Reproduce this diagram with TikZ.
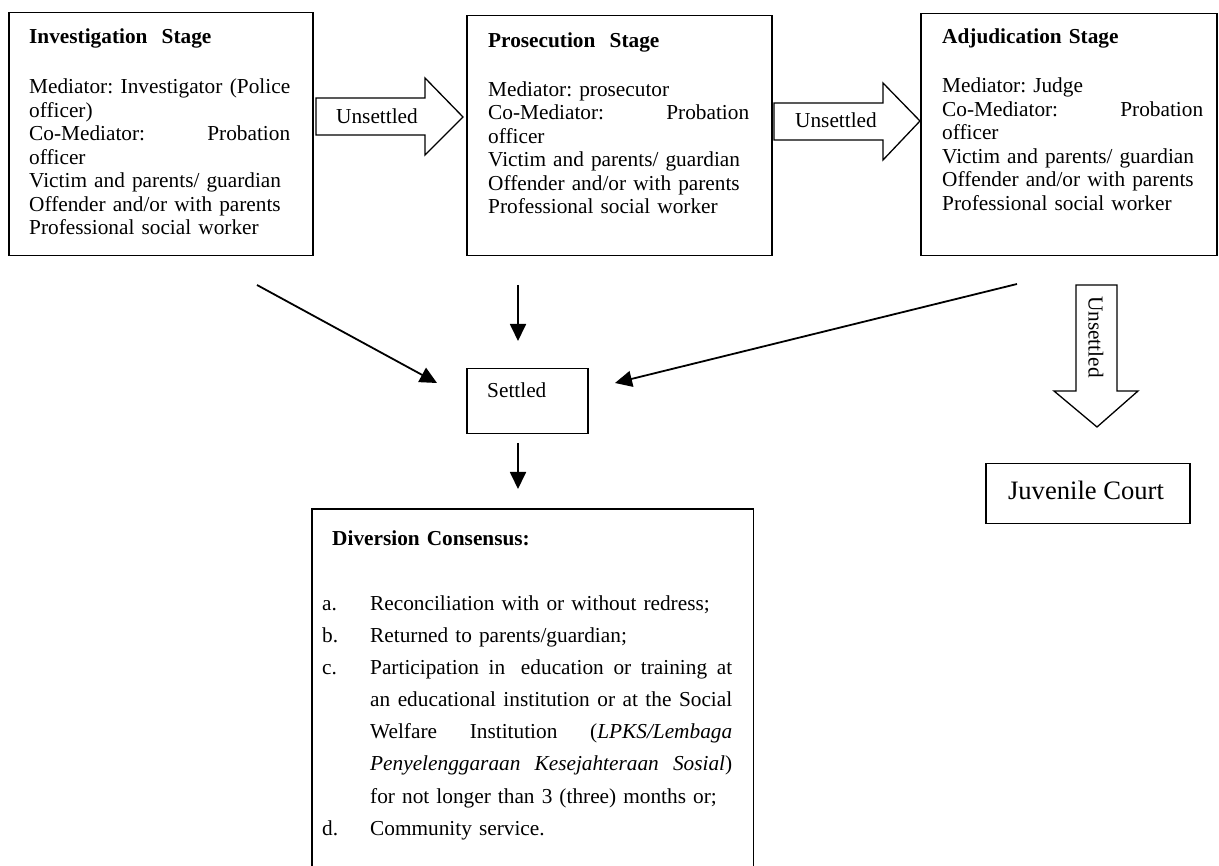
\documentclass[tikz,border=0pt]{standalone}
\usepackage{fontspec}
\setmainfont{Liberation Serif}
\usetikzlibrary{arrows.meta}
\frenchspacing
\begin{document}
\begin{tikzpicture}[x=1pt,y=-1pt,
  frame/.style={draw, line width=1.5pt, inner sep=0pt, anchor=north west},
  body/.style={inner sep=0pt, anchor=north west, text width=261pt, align=left,
    font=\fontsize{21.3}{23.5}\selectfont},
  conn/.style={line width=1.8pt, -{Triangle[length=17pt,width=16pt]}},
  blockarrow/.style={draw, line width=1.3pt, line join=miter},
  lab/.style={inner sep=0pt, font=\fontsize{21.3}{23.5}\selectfont}]
\useasboundingbox (0,0) rectangle (1219,866);

% ---- stage boxes
\node[frame, minimum width=304pt, minimum height=243pt] (inv) at (8,12) {};
\node[body] (invtext) at (29,26.5) {\strut\textbf{Investigation\ \ Stage}\\[27pt]
Mediator:\hfill Investigator\hfill (Police\\
officer)\\
Co-Mediator:\hfill Probation\\
officer\\
Victim and parents/ guardian\\
Offender and/or with parents\\
Professional social worker};

\node[frame, minimum width=305pt, minimum height=240pt] (pros) at (466,15) {};
\node[body] (prostext) at (488,31) {\strut\textbf{Prosecution\ \ Stage}\\[25pt]
Mediator: prosecutor\\
Co-Mediator:\hfill Probation\\
officer\\
Victim and parents/ guardian\\
Offender and/or with parents\\
Professional social worker};

\node[frame, minimum width=296pt, minimum height=242pt] (adj) at (920,13) {};
\node[body] (adjtext) at (942,27) {\strut\textbf{Adjudication Stage}\\[25.5pt]
Mediator: Judge\\
Co-Mediator:\hfill Probation\\
officer\\
Victim and parents/ guardian\\
Offender and/or with parents\\
Professional social worker};

% ---- block arrows "Unsettled"
\draw[blockarrow] (316,98) -- (425,98) -- (425,78) -- (463,117) -- (425,155) -- (425,135) -- (316,135) -- cycle;
\node[lab, anchor=base] (u1) at (377,124) {Unsettled};

\draw[blockarrow] (774,103) -- (883,103) -- (883,83) -- (920,121) -- (883,160) -- (883,140) -- (774,140) -- cycle;
\node[lab, anchor=base] (u2) at (836,128) {Unsettled};

\draw[blockarrow] (1076,285) -- (1117,285) -- (1117,391) -- (1138,391) -- (1097,427) -- (1054,391) -- (1076,391) -- cycle;
\node[lab, rotate=-90] (u3) at (1096,337) {Unsettled};

% ---- settled
\node[frame, minimum width=121pt, minimum height=65pt] (settled) at (466,368) {};
\node[lab, anchor=base west] (settledtext) at (487,398) {Settled};

% ---- juvenile court
\node[frame, minimum width=204pt, minimum height=60pt] (juv) at (985,463) {};
\node[inner sep=0pt, anchor=base, font=\fontsize{26.6}{30}\selectfont] (juvtext) at (1086,500) {Juvenile Court};

% ---- diversion consensus
\node[inner sep=0pt, anchor=north west, minimum width=441pt, minimum height=357pt] (div) at (312,509) {};
\draw[line width=1.5pt] (div.south west) -- (div.north west) -- (div.north east) -- (div.south east);
\node[inner sep=0pt, anchor=north west, text width=420pt, align=left,
  font=\fontsize{21.3}{32.14}\selectfont] (divtext) at (322,522.5) {%
\strut\hspace{10pt}\textbf{Diversion Consensus:}\\[32.9pt]
\makebox[48pt][l]{a.}Reconciliation with or without redress;\\
\makebox[48pt][l]{b.}Returned to parents/guardian;\\
\makebox[48pt][l]{c.}\hbox to 362pt{Participation\hfill in\hspace{6pt}\hfill education\hfill or\hfill training\hfill at}\\
\makebox[48pt][l]{}\hbox to 362pt{an\hfill educational\hfill institution\hfill or\hfill at\hfill the\hfill Social}\\
\makebox[48pt][l]{}\hbox to 362pt{Welfare\hfill Institution\hfill (\textit{LPKS/Lembaga}}\\
\makebox[48pt][l]{}\hbox to 362pt{\textit{Penyelenggaraan\hfill Kesejahteraan\hfill Sosial})}\\
\makebox[48pt][l]{}for not longer than 3 (three) months or;\\
\makebox[48pt][l]{d.}Community service.};

% ---- connectors
\coordinate (a1s) at (257,285);
\coordinate (a1e) at (437,383);
\coordinate (a2s) at (518,285);
\coordinate (a2e) at (518,341);
\coordinate (a3s) at (1017,284);
\coordinate (a3e) at (615,383);
\coordinate (a4s) at (518,443);
\coordinate (a4e) at (518,489);
\draw[conn] (a1s) -- (a1e);
\draw[conn] (a2s) -- (a2e);
\draw[conn] (a3s) -- (a3e);
\draw[conn] (a4s) -- (a4e);
\end{tikzpicture}
\end{document}
